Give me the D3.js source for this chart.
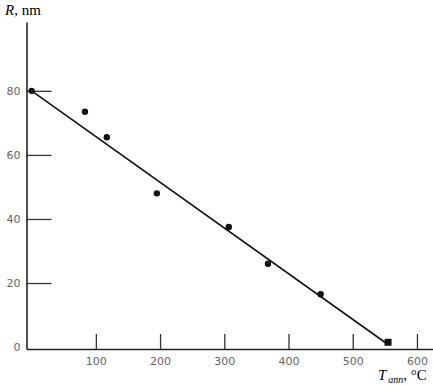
<!DOCTYPE html>
<html lang="en">
<head>
  <meta charset="UTF-8">
  <title>R vs T ann</title>
  <script src="https://d3js.org/d3.v7.min.js"></script>
  <style>
    body { margin: 0; background: #fff; }
  </style>
</head>
<body>
  <svg width="433" height="385"></svg>

  <script>
    // Data
    const tempValues = [0, 83, 117, 195, 307, 368, 450, 555];
    const radiusValues = [80, 73.5, 65.5, 48, 37.5, 26, 16.5, 1.5];
    const fitTemps = [0, 555];
    const fitRadii = [80, 0.8];
    const xTicks = [100, 200, 300, 400, 500, 600];
    const yTicks = [0, 20, 40, 60, 80];

    const svg = d3.select("svg");

    const x = d3.scaleLinear().domain([-8, 625]).range([26.5, 433]);
    const y = d3.scaleLinear().domain([-0.6, 101.5]).range([349, 22]);

    // x axis, ticks pointing up
    const gx = svg.append("g")
      .attr("transform", "translate(0," + y(-0.6) + ")")
      .call(d3.axisBottom(x).tickValues(xTicks).tickSizeInner(-15).tickSizeOuter(0).tickPadding(8));

    // y axis, ticks pointing right, labels on the left
    const gy = svg.append("g")
      .attr("transform", "translate(" + x(-8) + ",0)")
      .call(d3.axisLeft(y).tickValues(yTicks).tickSizeInner(-25).tickSizeOuter(0).tickPadding(5));

    [gx, gy].forEach(g => {
      g.select(".domain").attr("stroke", "#222").attr("stroke-width", 1.6);
      g.selectAll(".tick line").attr("stroke", "#333").attr("stroke-width", 1.3);
      g.selectAll(".tick text")
        .attr("fill", "#666")
        .style("font-family", "DejaVu Sans, sans-serif")
        .style("font-size", "11px");
    });
    gy.selectAll(".tick").filter(d => d === 0).select("line").remove();
    gy.selectAll(".tick text").attr("dy", "0.32em").attr("x", -6);

    // fitted line
    const line = d3.line().x(d => x(d[0])).y(d => y(d[1]));
    svg.append("path")
      .datum(d3.zip(fitTemps, fitRadii))
      .attr("fill", "none")
      .attr("stroke", "#111")
      .attr("stroke-width", 1.6)
      .attr("d", line);

    // data points
    const pts = d3.zip(tempValues, radiusValues);
    svg.selectAll("circle.pt")
      .data(pts.slice(0, pts.length - 1))
      .join("circle")
      .attr("class", "pt")
      .attr("cx", d => x(d[0]))
      .attr("cy", d => y(d[1]))
      .attr("r", 3.2)
      .attr("fill", "#111");

    const last = pts[pts.length - 1];
    svg.append("rect")
      .attr("x", x(last[0]) - 3.5)
      .attr("y", y(last[1]) - 3.5)
      .attr("width", 7)
      .attr("height", 7)
      .attr("fill", "#111");

    // axis titles
    const yTitle = svg.append("text")
      .attr("x", 5)
      .attr("y", 15)
      .style("font-family", "Liberation Serif, Times New Roman, serif")
      .style("font-size", "15px")
      .attr("fill", "#000");
    yTitle.append("tspan").style("font-style", "italic").text("R");
    yTitle.append("tspan").text(", nm");

    const xTitle = svg.append("text")
      .attr("x", 378)
      .attr("y", 380)
      .style("font-family", "Liberation Serif, Times New Roman, serif")
      .style("font-size", "15px")
      .attr("fill", "#000");
    xTitle.append("tspan").style("font-style", "italic").text("T");
    xTitle.append("tspan").style("font-style", "italic").style("font-size", "10px").attr("dy", 3).attr("dx", 2).text("ann");
    xTitle.append("tspan").attr("dy", -3).text(", °C");
  </script>
</body>
</html>
